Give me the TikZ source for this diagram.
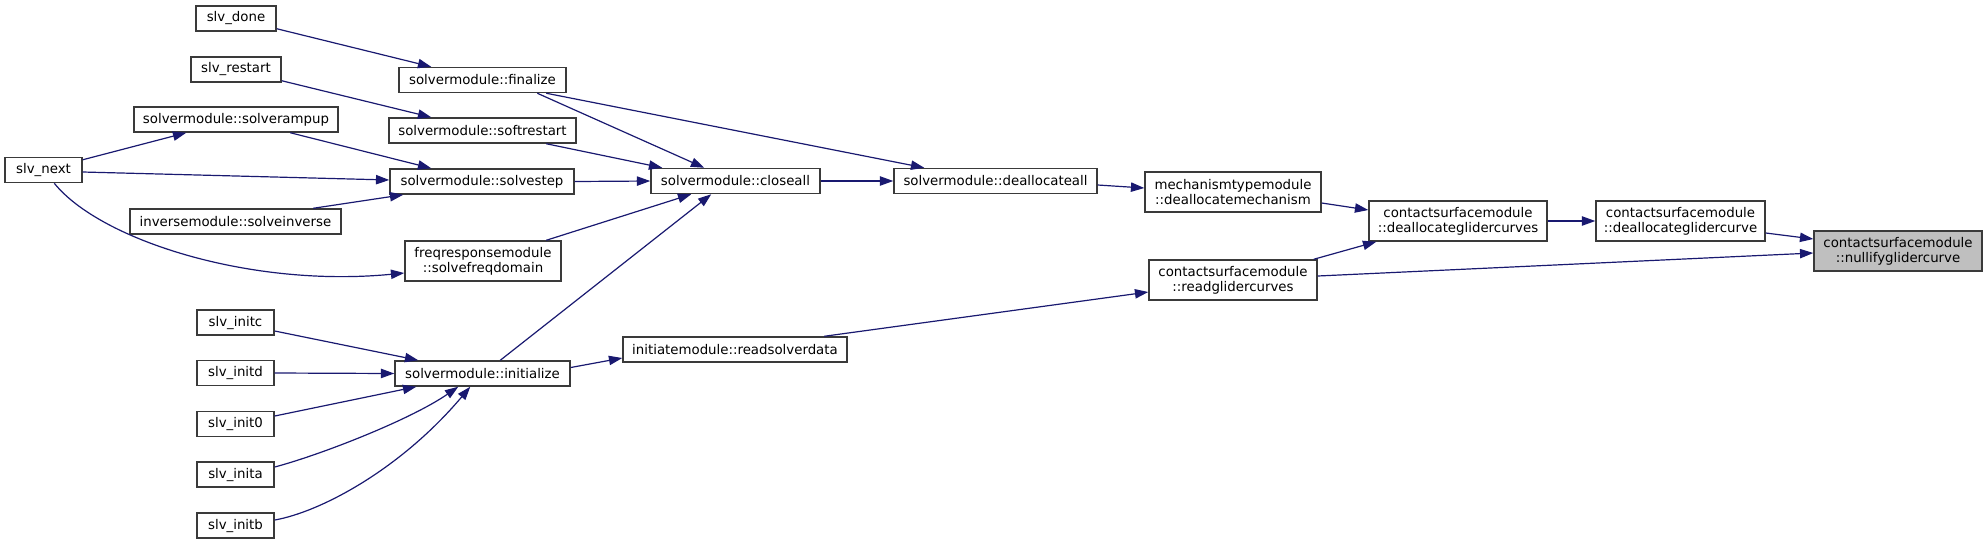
\documentclass[tikz,border=0pt]{standalone}
\usepackage{fontspec}
\setmainfont{DejaVu Sans}
\usetikzlibrary{arrows.meta,calc}
\definecolor{edgec}{HTML}{191970}
\definecolor{boxc}{HTML}{3A3A3A}
\definecolor{hl}{HTML}{BFBFBF}
\begin{document}
\begin{tikzpicture}[x=0.75pt,y=-0.75pt,
  box/.style={draw=boxc,line width=1.1pt,fill=white,inner sep=0pt,
    minimum height=18.75pt,minimum width=#1*0.75pt,
    font=\fontsize{10}{11.5}\selectfont,align=center},
  boxtwo/.style={box=#1,minimum height=30pt},
  edge/.style={draw=edgec,line width=0.9pt,-{Triangle[length=10pt,width=7pt]}}]
\useasboundingbox (0,0) rectangle (1987,544);

\node[box=80] (done) at (236,18.5) {slv\_done};
\node[box=90] (restart) at (236,69.5) {slv\_restart};
\node[box=167] (finalize) at (482.5,80) {solvermodule::finalize};
\node[box=204] (rampup) at (236,119.5) {solvermodule::solverampup};
\node[box=187] (softrestart) at (482.5,130.5) {solvermodule::softrestart};
\node[box=77] (next) at (43.5,170) {slv\_next};
\node[box=184] (solvestep) at (482,181.5) {solvermodule::solvestep};
\node[box=211] (inverse) at (235.5,221.5) {inversemodule::solveinverse};
\node[boxtwo=156] (freq) at (483,261) {freqresponsemodule\\::solvefreqdomain};
\node[box=77] (initc) at (235.5,322.5) {slv\_initc};
\node[box=77] (initd) at (235.5,373) {slv\_initd};
\node[box=77] (init0) at (235.5,424) {slv\_init0};
\node[box=77] (inita) at (235.5,474.5) {slv\_inita};
\node[box=77] (initb) at (235.5,525.5) {slv\_initb};
\node[box=175] (initialize) at (482.5,373.5) {solvermodule::initialize};
\node[box=169] (closeall) at (735.5,181) {solvermodule::closeall};
\node[box=203] (deallocall) at (995.5,181) {solvermodule::deallocateall};
\node[box=224] (readsolver) at (735,349.5) {initiatemodule::readsolverdata};
\node[boxtwo=176] (mech) at (1233,192) {mechanismtypemodule\\::deallocatemechanism};
\node[boxtwo=168] (readglider) at (1233,280) {contactsurfacemodule\\::readglidercurves};
\node[boxtwo=178] (dgcs) at (1458,221) {contactsurfacemodule\\::deallocateglidercurves};
\node[boxtwo=169] (dgc) at (1680.5,221) {contactsurfacemodule\\::deallocateglidercurve};
\node[boxtwo=168,fill=hl] (nullify) at (1898,251) {contactsurfacemodule\\::nullifyglidercurve};

\draw[edge] ($(done.south east)+(0,-3)$) -- ($(finalize.north west)+(33,0)$);
\draw[edge] ($(restart.south east)+(0,-2)$) -- ($(softrestart.north west)+(43,0)$);
\draw[edge] ($(next.north east)+(0,3)$) -- ($(rampup.south west)+(53,0)$);
\draw[edge] ($(rampup.south west)+(157,0)$) -- ($(solvestep.north west)+(42,0)$);
\draw[edge] ($(next.east)+(0,2)$) -- ($(solvestep.west)+(0,-1.5)$);
\draw[edge] ($(inverse.north west)+(184,0)$) -- ($(solvestep.south west)+(14,0)$);
\draw[edge] ($(next.south west)+(50,0)$) .. controls (100,240) and (250,288) .. ($(freq.west)+(0,12)$);
\draw[edge] ($(finalize.south west)+(139,0)$) -- ($(closeall.north west)+(54,0)$);
\draw[edge] ($(softrestart.south west)+(158,0)$) -- ($(closeall.north west)+(12,0)$);
\draw[edge] (solvestep.east) -- (closeall.west);
\draw[edge] ($(freq.north west)+(142,0)$) -- ($(closeall.south west)+(41,0)$);
\draw[edge] ($(initialize.north west)+(106,0)$) -- ($(closeall.south west)+(61,0)$);
\draw[edge] ($(finalize.south west)+(148,0)$) -- ($(deallocall.north west)+(31,0)$);
\draw[edge] (closeall.east) -- (deallocall.west);
\draw[edge] ($(deallocall.east)+(0,4)$) -- ($(mech.west)+(0,-4)$);
\draw[edge] ($(mech.east)+(0,11)$) -- ($(dgcs.west)+(0,-11)$);
\draw[edge] ($(readglider.north east)+(-4,0)$) -- ($(dgcs.south west)+(8,0)$);
\draw[edge] ($(readglider.east)+(0,-4)$) -- ($(nullify.west)+(0,2)$);
\draw[edge] (dgcs.east) -- (dgc.west);
\draw[edge] ($(dgc.east)+(0,12)$) -- ($(nullify.west)+(0,-12)$);
\draw[edge] ($(readsolver.north west)+(202,0)$) -- ($(readglider.west)+(0,12)$);
\draw[edge] ($(initialize.east)+(0,-6)$) -- ($(readsolver.west)+(0,8.5)$);
\draw[edge] ($(initc.east)+(0,8.5)$) -- ($(initialize.north west)+(24,0)$);
\draw[edge] (initd.east) -- (initialize.west);
\draw[edge] ($(init0.east)+(0,-8)$) -- ($(initialize.south west)+(22,0)$);
\draw[edge] ($(inita.east)+(0,-7.5)$) .. controls (320,455) and (410,420) .. ($(initialize.south west)+(64,0)$);
\draw[edge] ($(initb.east)+(0,-5.5)$) .. controls (320,512) and (400,470) .. ($(initialize.south west)+(76,0)$);
\end{tikzpicture}
\end{document}
